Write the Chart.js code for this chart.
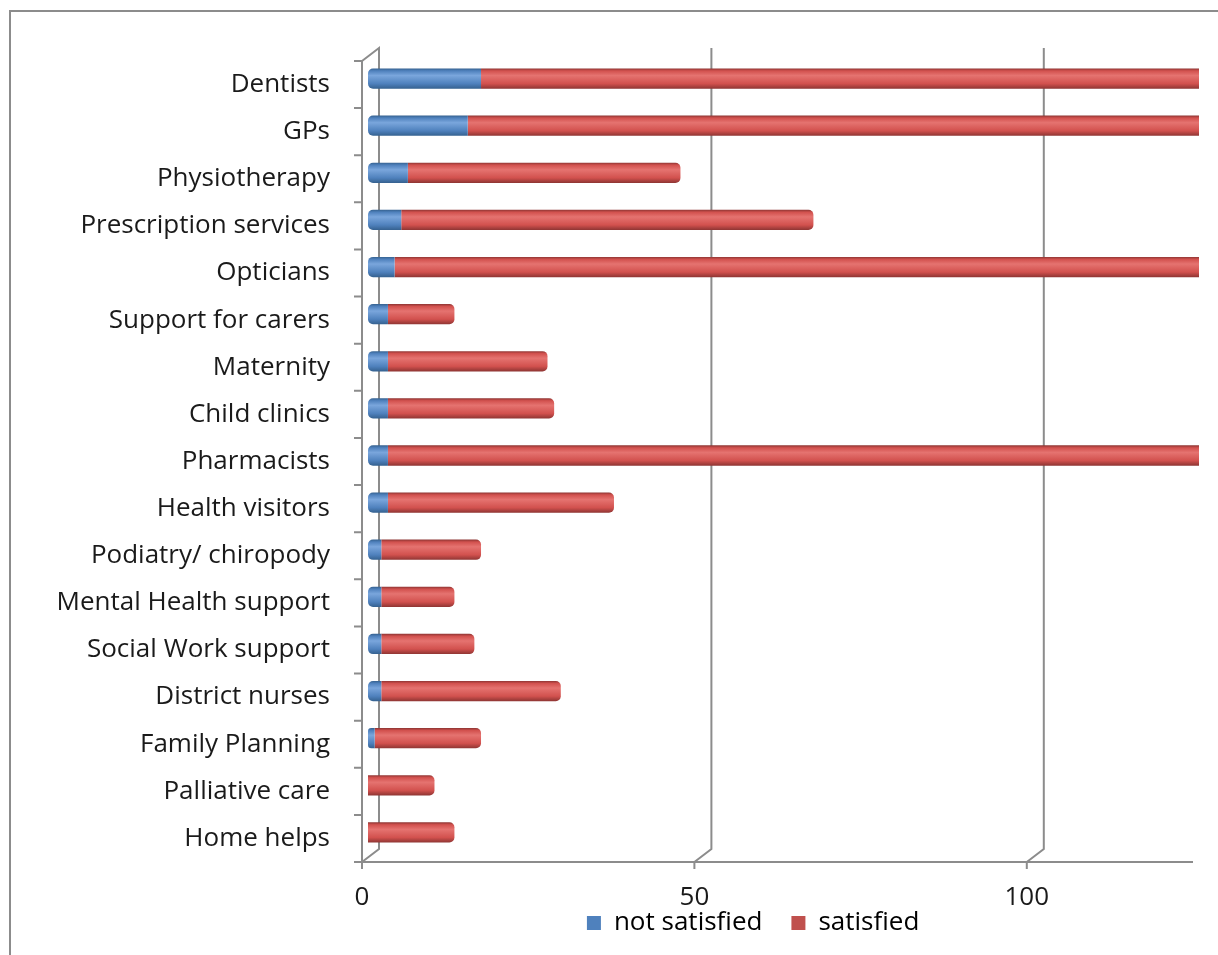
<!DOCTYPE html>
<html>
<head>
<meta charset="utf-8">
<script src="https://cdn.jsdelivr.net/npm/chart.js@4.4.0/dist/chart.umd.min.js"></script>
<style>
  body { margin: 0; background: #fff; overflow: hidden; }
  #wrap { position: relative; width: 1218px; height: 955px; }
  #frame { position: absolute; left: 9px; top: 10px; width: 1240px; height: 980px; border: 2px solid #8c8c8c; }
  canvas { position: absolute; left: 0; top: 0; }
</style>
</head>
<body>
<div id="wrap">
  <div id="frame"></div>
  <canvas id="chart"></canvas>
</div>
<script>
// survey data
const categories = ['Dentists', 'GPs', 'Physiotherapy', 'Prescription services', 'Opticians',
    'Support for carers', 'Maternity', 'Child clinics', 'Pharmacists', 'Health visitors',
    'Podiatry/ chiropody', 'Mental Health support', 'Social Work support', 'District nurses',
    'Family Planning', 'Palliative care', 'Home helps'];
const notSatisfied = [17, 15, 6, 5, 4, 3, 3, 3, 3, 3, 2, 2, 2, 2, 1, 0, 0];
const satisfied = [120, 125, 41, 62, 130, 10, 24, 25, 140, 34, 15, 11, 14, 27, 16, 10, 13];
const xTicks = [0, 50, 100];
const xMax = 125;

const FONT = '"Open Sans"';
const FONT_SIZE = 26;
const BAR_PCT = 0.43;
const GRID = '#8c8c8c';
// fake 3D: front plane and back wall offsets from the bar plane
const FRONT = { dx: -6, dy: 6 };
const BACK = { dx: 11, dy: -7 };

// vertical gradient so every bar looks like a cylinder
function barGradient(ctx, light, mid, dark) {
    const chart = ctx.chart;
    const area = chart.chartArea;
    if (!area || !chart.scales.y) return mid;
    const yScale = chart.scales.y;
    const h = area.bottom - area.top;
    const half = (h / categories.length) * BAR_PCT / 2;
    const g = chart.ctx.createLinearGradient(0, area.top, 0, area.bottom);
    const clamp = v => Math.min(1, Math.max(0, v));
    categories.forEach((c, i) => {
        const cy = yScale.getPixelForValue(i);
        const t = clamp((cy - half - area.top) / h);
        const b = clamp((cy + half - area.top) / h);
        g.addColorStop(t, dark);
        g.addColorStop(clamp(t + (b - t) * 0.12), mid);
        g.addColorStop(clamp(t + (b - t) * 0.35), light);
        g.addColorStop(clamp(t + (b - t) * 0.75), mid);
        g.addColorStop(b, dark);
    });
    return g;
}

// draws the back wall, front axes and tick marks
const frame3d = {
    id: 'frame3d',
    beforeDatasetsDraw(chart) {
        const { ctx, chartArea: a, scales: { x } } = chart;
        const topB = a.top + BACK.dy, botB = a.bottom + BACK.dy;
        const botF = a.bottom + FRONT.dy;
        ctx.save();
        ctx.strokeStyle = GRID;
        ctx.lineWidth = 2;
        xTicks.forEach(v => {
            const px = x.getPixelForValue(v);
            ctx.beginPath();
            if (v === 0) {
                ctx.moveTo(px + FRONT.dx, a.top + FRONT.dy);
                ctx.lineTo(px + BACK.dx, topB);
            } else {
                ctx.moveTo(px + BACK.dx, topB);
            }
            ctx.lineTo(px + BACK.dx, botB);
            ctx.lineTo(px + FRONT.dx, botF);
            ctx.stroke();
        });
        ctx.restore();
    },
    afterDatasetsDraw(chart) {
        const { ctx, chartArea: a, scales: { x, y } } = chart;
        const left = x.getPixelForValue(0) + FRONT.dx;
        const right = x.getPixelForValue(xMax) + FRONT.dx;
        const top = a.top + FRONT.dy, bot = a.bottom + FRONT.dy;
        ctx.save();
        ctx.strokeStyle = GRID;
        ctx.lineWidth = 2;
        ctx.beginPath();
        ctx.moveTo(left, top);
        ctx.lineTo(left, bot);
        ctx.lineTo(right, bot);
        // category ticks
        const band = (a.bottom - a.top) / categories.length;
        for (let i = 0; i <= categories.length; i++) {
            ctx.moveTo(left, top + i * band);
            ctx.lineTo(left - 8, top + i * band);
        }
        xTicks.forEach(v => {
            const px = x.getPixelForValue(v) + FRONT.dx;
            ctx.moveTo(px, bot);
            ctx.lineTo(px, bot + 7);
        });
        ctx.stroke();
        ctx.restore();
    }
};

document.addEventListener('DOMContentLoaded', function() {
    const ctx = document.getElementById('chart').getContext('2d');
    new Chart(ctx, {
        type: 'bar',
        data: {
            labels: categories,
            datasets: [{
                label: 'not satisfied',
                data: notSatisfied,
                backgroundColor: c => barGradient(c, '#7aa6dc', '#4f81bd', '#35618f'),
                borderRadius: { topLeft: 5, bottomLeft: 5, topRight: 0, bottomRight: 0 },
                borderSkipped: false,
                barPercentage: BAR_PCT,
                categoryPercentage: 1
            }, {
                label: 'satisfied',
                data: satisfied,
                backgroundColor: c => barGradient(c, '#e57370', '#d2514e', '#8e3533'),
                borderRadius: { topLeft: 0, bottomLeft: 0, topRight: 5, bottomRight: 5 },
                borderSkipped: false,
                barPercentage: BAR_PCT,
                categoryPercentage: 1
            }]
        },
        options: {
            indexAxis: 'y',
            responsive: true,
            maintainAspectRatio: false,
            animation: false,
            layout: { padding: { top: 55, right: 19, left: 0, bottom: 9 } },
            plugins: {
                tooltip: { enabled: false },
                legend: {
                    position: 'bottom',
                    fullSize: false,
                    labels: {
                        boxWidth: 14,
                        boxHeight: 14,
                        padding: 2,
                        color: '#1a1a1a',
                        font: { family: FONT, size: FONT_SIZE },
                        generateLabels(chart) {
                            // trailing spaces only nudge the legend leftwards, as in the picture
                            return chart.data.datasets.map((ds, i) => ({
                                text: ds.label + (i === 0 ? '    ' : '         '),
                                fillStyle: i === 0 ? '#4f81bd' : '#c0504d',
                                strokeStyle: 'transparent',
                                lineWidth: 0,
                                datasetIndex: i
                            }));
                        }
                    }
                }
            },
            scales: {
                x: {
                    stacked: true,
                    min: 0,
                    max: xMax,
                    afterBuildTicks: scale => { scale.ticks = xTicks.map(v => ({ value: v })); },
                    afterFit: scale => { scale.height = 52; },
                    grid: { display: false, drawTicks: false },
                    border: { display: false },
                    ticks: {
                        padding: 26,
                        labelOffset: FRONT.dx,
                        color: '#1a1a1a',
                        font: { family: FONT, size: FONT_SIZE }
                    }
                },
                y: {
                    stacked: true,
                    afterFit: scale => { scale.width = 368; },
                    grid: { display: false, drawTicks: false },
                    border: { display: false },
                    ticks: {
                        padding: 38,
                        labelOffset: FRONT.dy,
                        autoSkip: false,
                        color: '#1a1a1a',
                        font: { family: FONT, size: FONT_SIZE }
                    }
                }
            }
        },
        plugins: [frame3d]
    });
});
</script>
</body>
</html>
